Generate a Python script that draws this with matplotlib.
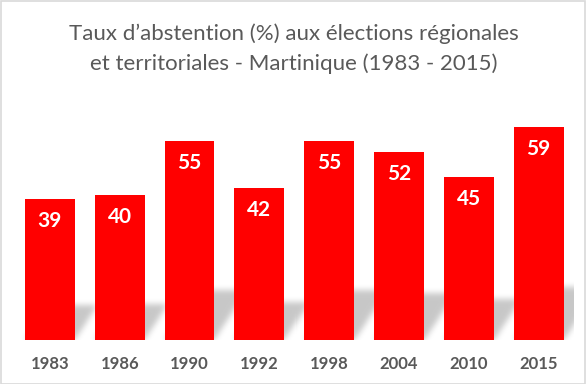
import numpy as np
import matplotlib
matplotlib.use("Agg")
import matplotlib.pyplot as plt
from matplotlib.patches import Rectangle
from matplotlib.path import Path

# --- données ---
annees = ["1983", "1986", "1990", "1992", "1998", "2004", "2010", "2015"]
abstention = [39, 40, 55, 42, 55, 52, 45, 59]

titre = "Taux d\u2019abstention (%) aux élections régionales\net territoriales - Martinique (1983 - 2015)"

ROUGE = "#ff0000"
GRIS_TEXTE = "#595959"

plt.rcParams['font.family'] = ['Lato', 'DejaVu Sans']

W, H = 588, 384
fig = plt.figure(figsize=(W / 100, H / 100), dpi=100)

# zone de tracé en pixels (gauche, bas, largeur, hauteur)
ax = fig.add_axes([15 / W, 44 / H, 558.5 / W, 235 / H])
ax.set_xlim(-0.5, len(annees) - 0.5)
ax.set_ylim(0, 65)
ax.axis("off")

x = np.arange(len(annees))
largeur = 0.714


# --- ombre "perspective diagonale haut droite" façon Office ---
# silhouette de la barre écrasée, inclinée vers la droite, puis floutée
def flou_gauss(img, sigma):
    r = int(3 * sigma)
    k = np.exp(-0.5 * (np.arange(-r, r + 1) / sigma) ** 2)
    k /= k.sum()
    img = np.apply_along_axis(lambda m: np.convolve(m, k, mode="same"), 0, img)
    img = np.apply_along_axis(lambda m: np.convolve(m, k, mode="same"), 1, img)
    return img


bb = ax.get_window_extent()
nx, ny = int(round(bb.width)), int(round(bb.height))
pad = 20
(xa, xb), (ya, yb) = ax.get_xlim(), ax.get_ylim()
sx, sy = nx / (xb - xa), ny / (yb - ya)          # pixels par unité
gx, gy = np.meshgrid(np.arange(-pad, nx + pad) + 0.5, np.arange(-pad, ny + pad) + 0.5)
pts = np.column_stack([gx.ravel(), gy.ravel()])

transp = np.ones(gx.shape)
for xi, v in zip(x, abstention):
    x0 = (xi - largeur / 2 - xa) * sx
    x1 = (xi + largeur / 2 - xa) * sx
    h = 0.25 * v * sy
    dx = 0.65 * h
    poly = Path([(x0, 0), (x1, 0), (x1 + dx, h), (x0 + dx, h)])
    masque = poly.contains_points(pts).reshape(gx.shape).astype(float)
    masque = flou_gauss(masque, 3.0)
    transp *= 1 - 0.22 * masque
alpha = (1 - transp)[pad:-pad, pad:-pad]

rgba = np.zeros((ny, nx, 4))
rgba[..., 3] = alpha
ax.imshow(rgba, extent=(xa, xb, ya, yb), origin="lower", aspect="auto",
          interpolation="nearest", zorder=1)

# --- barres ---
ax.bar(x, abstention, width=largeur, color=ROUGE, zorder=3)
ax.set_xlim(xa, xb)
ax.set_ylim(ya, yb)

# --- étiquettes de valeurs ---
for xi, v in zip(x, abstention):
    ax.annotate(str(v), (xi, v), xytext=(0, -22), textcoords="offset pixels",
                ha="center", va="center", color="white", fontsize=15,
                fontweight="bold", zorder=4)

# --- étiquettes des années ---
for xi, a in zip(x, annees):
    ax.annotate(a, (xi, 0), xytext=(0, -24), textcoords="offset pixels",
                ha="center", va="center", color=GRIS_TEXTE, fontsize=12,
                fontweight="bold", annotation_clip=False)

# --- titre ---
fig.text(0.5, 1 - 49 / H, titre, ha="center", va="center", color=GRIS_TEXTE,
         fontsize=16, linespacing=1.55)

# --- cadre ---
fig.patches.append(Rectangle((0.5 / W, 0.5 / H), 584.5 / W, 382.5 / H,
                             transform=fig.transFigure, fill=False,
                             edgecolor="#d9d9d9", linewidth=1.2))

fig.savefig("out.png", dpi=100)
